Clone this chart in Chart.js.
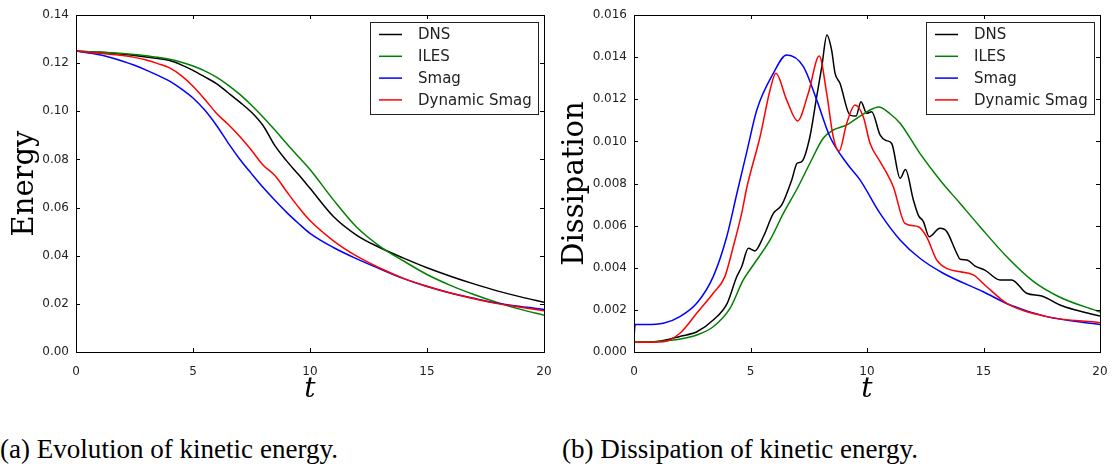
<!DOCTYPE html>
<html>
<head>
<meta charset="utf-8">
<script src="https://cdn.jsdelivr.net/npm/chart.js@4.4.0/dist/chart.umd.min.js"></script>
<style>
    body { margin: 0; background: #fff; width: 1115px; height: 466px; overflow: hidden; position: relative; }
    .box { position: absolute; top: 0; height: 410px; }
    .caption { position: absolute; top: 436px; font-family: 'Liberation Serif', serif; font-size: 22px; line-height: 26px; color: #000; white-space: nowrap; }
</style>
</head>
<body>
<div class="box" style="left:0; width:557px;"><canvas id="energyChart" width="557" height="410"></canvas></div>
<div class="box" style="left:557px; width:558px;"><canvas id="dissChart" width="558" height="410"></canvas></div>
<div class="caption" id="capA" style="left:0;">(a) Evolution of kinetic energy.</div>
<div class="caption" id="capB" style="left:562px;">(b) Dissipation of kinetic energy.</div>

<script>
// Series names and colours (matplotlib defaults k, g, b, r)
const seriesNames = ['DNS', 'ILES', 'Smag', 'Dynamic Smag'];
const seriesColors = ['#000000', '#008000', '#0000ff', '#ff0000'];

// Energy vs t
const energyT = [0, 1, 2, 2.5, 3, 3.5, 4, 4.5, 5, 5.5, 6, 6.5, 7, 7.5, 8, 8.5, 9, 9.5, 10, 11, 12, 13, 14, 15, 16, 17, 18, 19, 20];
const energyDNS  = [0.125, 0.1245, 0.1237, 0.1232, 0.1226, 0.1219, 0.1211, 0.1193, 0.1170, 0.1143, 0.1115, 0.1077, 0.1038, 0.0996, 0.0940, 0.0857, 0.0794, 0.0738, 0.0680, 0.0563, 0.0485, 0.0433, 0.0390, 0.0350, 0.0315, 0.0283, 0.0254, 0.0229, 0.0207];
const energyILES = [0.125, 0.1246, 0.1240, 0.1236, 0.1231, 0.1224, 0.1216, 0.1204, 0.1188, 0.1168, 0.1142, 0.1109, 0.1070, 0.1025, 0.0975, 0.0922, 0.0866, 0.0812, 0.0758, 0.0632, 0.0518, 0.0438, 0.0378, 0.0322, 0.0277, 0.0239, 0.0206, 0.0177, 0.0153];
const energySmag = [0.125, 0.1235, 0.1208, 0.1191, 0.1171, 0.1149, 0.1125, 0.1093, 0.1055, 0.1005, 0.0942, 0.0869, 0.0801, 0.0741, 0.0683, 0.0630, 0.0580, 0.0535, 0.0493, 0.0434, 0.0387, 0.0345, 0.0305, 0.0272, 0.0245, 0.0223, 0.0203, 0.0189, 0.0177];
const energyDyn  = [0.125, 0.1241, 0.1232, 0.1224, 0.1213, 0.1198, 0.1180, 0.1148, 0.1104, 0.1050, 0.0992, 0.0946, 0.0895, 0.0838, 0.0776, 0.0733, 0.0667, 0.0603, 0.0546, 0.0462, 0.0398, 0.0348, 0.0306, 0.0273, 0.0245, 0.0221, 0.0201, 0.0186, 0.0171];

// Dissipation vs t (each series read at its own t values)
const dissDNST = [0, 1, 2, 2.7, 3.4, 4.0, 4.4, 4.62, 4.91, 5.19, 5.55, 5.98, 6.34, 6.77, 7.0, 7.2, 7.55, 7.84, 8.06, 8.28, 8.48, 8.63, 8.84, 9.27, 9.53, 9.74, 9.99, 10.2, 10.56, 10.8, 11.06, 11.42, 11.65, 11.99, 12.2, 12.42, 12.67, 13.13, 13.42, 13.85, 14.0, 14.28, 14.64, 15.06, 15.71, 16.21, 16.85, 17.5, 18.28, 19.0, 20];
const dissDNS  = [0.00046, 0.0005, 0.00075, 0.00096, 0.00152, 0.00231, 0.00355, 0.00405, 0.00492, 0.0048, 0.00547, 0.00658, 0.00698, 0.00817, 0.00896, 0.00904, 0.01022, 0.01212, 0.01355, 0.01505, 0.01434, 0.01323, 0.01276, 0.01125, 0.0112, 0.01188, 0.01133, 0.01141, 0.01031, 0.01005, 0.0099, 0.00825, 0.00866, 0.00722, 0.0065, 0.00619, 0.00547, 0.00587, 0.00572, 0.00469, 0.0044, 0.00437, 0.00408, 0.00389, 0.00342, 0.00342, 0.00279, 0.00266, 0.00223, 0.00198, 0.00171];
const dissILEST = [0, 1, 2, 2.7, 3.4, 4.12, 4.69, 5.12, 5.84, 6.41, 7.0, 7.55, 8.12, 8.55, 9.13, 9.7, 10.13, 10.5, 11.0, 11.42, 12.27, 13.13, 13.99, 14.85, 16.0, 17.14, 18.28, 20];
const dissILES  = [0.00046, 0.0005, 0.00062, 0.00081, 0.0012, 0.00207, 0.00342, 0.00413, 0.00532, 0.00658, 0.00775, 0.00896, 0.01015, 0.01054, 0.01078, 0.0112, 0.01149, 0.01163, 0.0113, 0.01086, 0.00943, 0.00817, 0.00706, 0.00595, 0.00452, 0.00335, 0.0026, 0.0019];
const dissSmagT = [0, 0.05, 0.5, 1.26, 1.97, 2.69, 3.4, 3.98, 4.41, 4.84, 5.27, 5.98, 6.55, 7.27, 7.84, 8.41, 9.13, 9.7, 10.56, 11.42, 12.27, 13.27, 14.99, 16.14, 17.71, 20];
const dissSmag  = [0.0007, 0.0013, 0.0013, 0.00136, 0.00168, 0.00231, 0.00358, 0.00547, 0.0075, 0.0095, 0.01149, 0.01323, 0.0141, 0.01355, 0.01197, 0.01022, 0.00896, 0.00817, 0.00658, 0.00532, 0.00445, 0.00374, 0.00286, 0.00223, 0.00168, 0.00131];
const dissDynT = [0, 1.26, 1.97, 2.69, 3.4, 3.9, 4.26, 4.62, 4.84, 5.41, 5.84, 6.09, 6.55, 7.02, 7.48, 7.95, 8.27, 8.55, 8.8, 9.13, 9.48, 9.84, 10.13, 10.56, 10.85, 11.13, 11.63, 12.2, 12.56, 12.99, 13.42, 14.0, 14.56, 15.14, 16.0, 17.71, 20];
const dissDyn  = [0.00046, 0.00049, 0.00089, 0.00184, 0.00279, 0.00358, 0.005, 0.00658, 0.0078, 0.01022, 0.01244, 0.01323, 0.01197, 0.01097, 0.01228, 0.01405, 0.01228, 0.01022, 0.00954, 0.01086, 0.01173, 0.01117, 0.00991, 0.00904, 0.00849, 0.00785, 0.00611, 0.00595, 0.00547, 0.00437, 0.00397, 0.00381, 0.00366, 0.0031, 0.00231, 0.00168, 0.00139];

const tTicks = [0, 5, 10, 15, 20];

function toPoints(ts, vs) {
    return ts.map((t, i) => ({ x: t, y: vs[i] }));
}

function makeDatasets(pairs) {
    return pairs.map((p, i) => ({
        label: seriesNames[i],
        data: toPoints(p[0], p[1]),
        borderColor: seriesColors[i],
        borderWidth: 1.5,
        pointRadius: 0,
        fill: false,
        cubicInterpolationMode: 'monotone',
        order: 4 - i   // last series drawn on top, like matplotlib
    }));
}

// Axes frame with inward ticks on all four sides
const framePlugin = {
    id: 'frame',
    afterDatasetsDraw(chart) {
        const { ctx, chartArea: a, scales } = chart;
        ctx.save();
        ctx.strokeStyle = '#000';
        ctx.lineWidth = 1;
        ctx.beginPath();
        scales.x.ticks.forEach(t => {
            const px = Math.round(scales.x.getPixelForValue(t.value)) + 0.5;
            ctx.moveTo(px, a.bottom); ctx.lineTo(px, a.bottom - 4);
            ctx.moveTo(px, a.top); ctx.lineTo(px, a.top + 4);
        });
        scales.y.ticks.forEach(t => {
            const py = Math.round(scales.y.getPixelForValue(t.value)) + 0.5;
            ctx.moveTo(a.left, py); ctx.lineTo(a.left + 4, py);
            ctx.moveTo(a.right, py); ctx.lineTo(a.right - 4, py);
        });
        ctx.stroke();
        ctx.strokeRect(Math.round(a.left) + 0.5, Math.round(a.top) + 0.5,
                       Math.round(a.right - a.left), Math.round(a.bottom - a.top));
        ctx.restore();
    }
};

// Boxed legend in the upper right corner of the axes
const boxLegendPlugin = {
    id: 'boxLegend',
    afterDraw(chart) {
        const { ctx, chartArea: a } = chart;
        const w = 168, h = 92;
        const left = Math.round(a.right - 6.5 - w), top = Math.round(a.top + 6.5);
        ctx.save();
        ctx.fillStyle = '#fff';
        ctx.fillRect(left, top, w, h);
        ctx.strokeStyle = '#222';
        ctx.lineWidth = 1;
        ctx.strokeRect(left + 0.5, top + 0.5, w, h);
        ctx.font = '15px "DejaVu Sans"';
        ctx.textBaseline = 'middle';
        ctx.fillStyle = '#222';
        chart.data.datasets.forEach((ds, i) => {
            const y = top + 12.5 + i * 21.8;
            ctx.strokeStyle = ds.borderColor;
            ctx.lineWidth = 1.5;
            ctx.beginPath();
            ctx.moveTo(left + 9, y);
            ctx.lineTo(left + 32, y);
            ctx.stroke();
            ctx.fillText(ds.label, left + 48, y + 1);
        });
        ctx.restore();
    }
};

function makeChart(canvasId, datasets, yMax, yStep, yDigits, yTitle, yWidth, titlePad, rightPad) {
    return new Chart(document.getElementById(canvasId), {
        type: 'line',
        data: { datasets: datasets },
        options: {
            responsive: false,
            animation: false,
            layout: { padding: { top: 15, right: rightPad, bottom: 0, left: 0 } },
            plugins: { legend: { display: false }, tooltip: { enabled: false } },
            scales: {
                x: {
                    type: 'linear',
                    min: 0,
                    max: 20,
                    afterBuildTicks: (scale) => { scale.ticks = tTicks.map(v => ({ value: v })); },
                    afterFit: (scale) => { scale.height = 58; },
                    grid: { display: false },
                    border: { display: false },
                    ticks: {
                        autoSkip: false,
                        maxRotation: 0,
                        padding: 5,
                        color: '#222',
                        font: { family: 'DejaVu Sans', size: 12 },
                        callback: (v) => String(v)
                    },
                    title: {
                        display: true,
                        text: 't',
                        color: '#000',
                        font: { family: 'DejaVu Serif', size: 28, style: 'italic' },
                        padding: { top: 0, bottom: 3 }
                    }
                },
                y: {
                    type: 'linear',
                    min: 0,
                    max: yMax,
                    afterBuildTicks: (scale) => {
                        const ticks = [];
                        for (let i = 0; i * yStep <= yMax + 1e-12; i++) ticks.push({ value: i * yStep });
                        scale.ticks = ticks;
                    },
                    afterFit: (scale) => { scale.width = yWidth; },
                    grid: { display: false, drawTicks: false },
                    border: { display: false },
                    ticks: {
                        padding: 7,
                        color: '#222',
                        font: { family: 'DejaVu Sans', size: 12 },
                        callback: (v) => v.toFixed(yDigits)
                    },
                    title: {
                        display: true,
                        text: yTitle,
                        color: '#000',
                        font: { family: 'DejaVu Serif', size: 29 },
                        padding: { top: titlePad, bottom: 0 }
                    }
                }
            }
        },
        plugins: [framePlugin, boxLegendPlugin]
    });
}

makeChart('energyChart', makeDatasets([
    [energyT, energyDNS], [energyT, energyILES], [energyT, energySmag], [energyT, energyDyn]
]), 0.14, 0.02, 2, 'Energy', 76, 8, 13);

makeChart('dissChart', makeDatasets([
    [dissDNST, dissDNS], [dissILEST, dissILES], [dissSmagT, dissSmag], [dissDynT, dissDyn]
]), 0.016, 0.002, 3, 'Dissipation', 77, 1, 15);

// Fit caption font size to the width it has in the figure
(function fitCaptions() {
    const c = document.createElement('canvas').getContext('2d');
    c.font = '22px "Liberation Serif"';
    const w = c.measureText('(a) Evolution of kinetic energy.').width;
    const size = 22 * 338 / w;
    document.querySelectorAll('.caption').forEach(el => { el.style.fontSize = size.toFixed(2) + 'px'; });
})();
</script>
</body>
</html>
